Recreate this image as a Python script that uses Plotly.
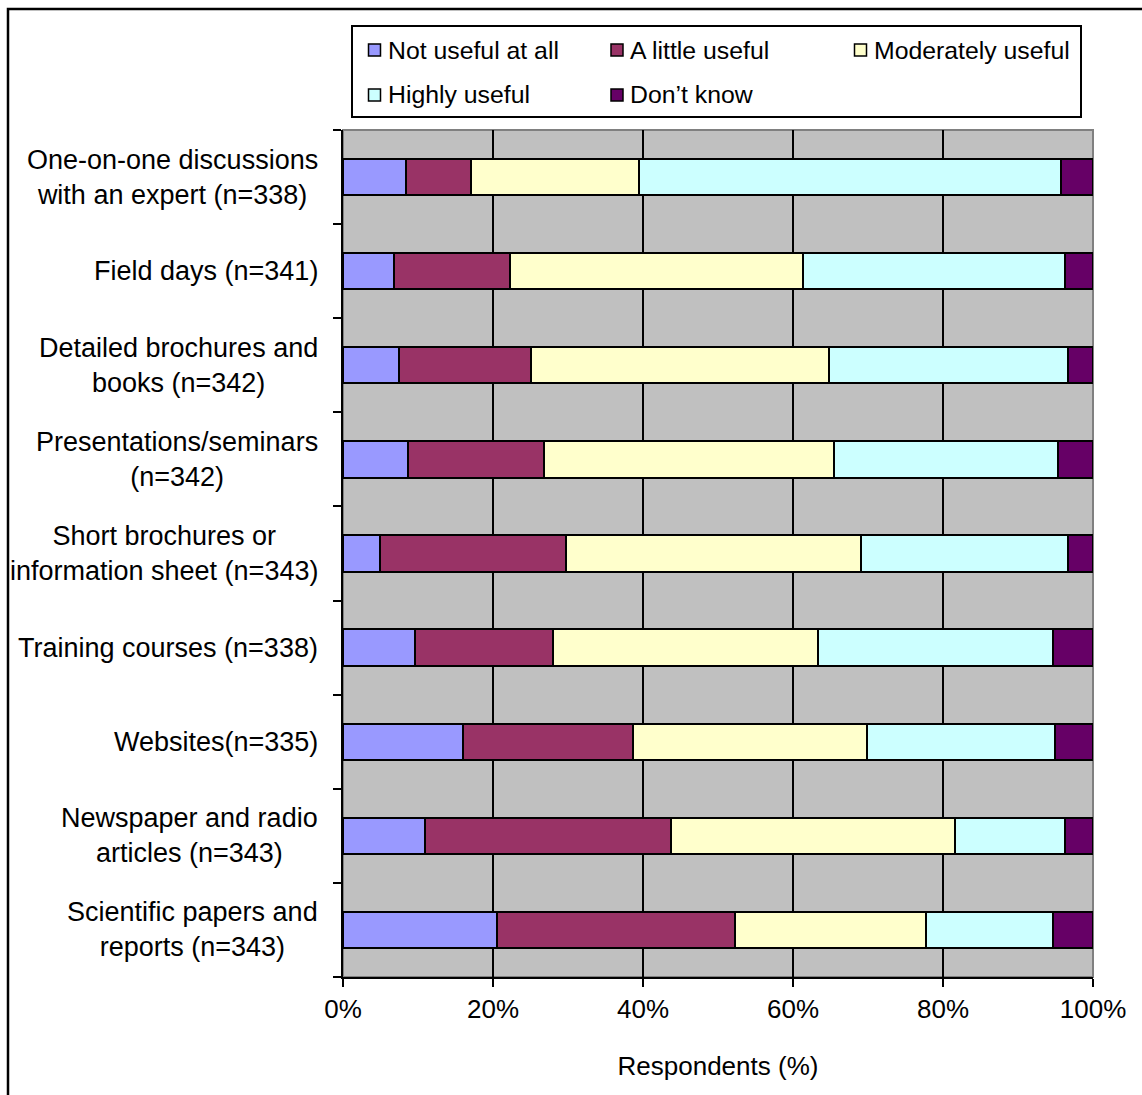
import plotly.graph_objects as go

# ---- data -------------------------------------------------------------
categories = [
    "One-on-one discussions<br>with an expert (n=338)",
    "Field days (n=341)",
    "Detailed brochures and<br>books (n=342)",
    "Presentations/seminars<br>(n=342)",
    "Short brochures or<br>information sheet (n=343)",
    "Training courses (n=338)",
    "Websites(n=335)",
    "Newspaper and radio<br>articles (n=343)",
    "Scientific papers and<br>reports (n=343)",
]

series_names = ["Not useful at all", "A little useful", "Moderately useful",
                "Highly useful", "Don\u2019t know"]

not_useful = [8.4, 6.8, 7.5, 8.7, 4.9, 9.6, 16.0, 10.9, 20.5]
little_useful = [8.7, 15.5, 17.6, 18.1, 24.8, 18.4, 22.7, 32.8, 31.8]
moderately_useful = [22.4, 39.0, 39.7, 38.7, 39.4, 35.3, 31.1, 37.9, 25.4]
highly_useful = [56.2, 34.9, 31.8, 29.8, 27.6, 31.3, 25.1, 14.6, 16.9]
dont_know = [4.3, 3.8, 3.4, 4.7, 3.3, 5.4, 5.1, 3.8, 5.4]

series_values = [not_useful, little_useful, moderately_useful,
                 highly_useful, dont_know]
series_colors = ["#9999FF", "#993366", "#FFFFCC", "#CCFFFF", "#660066"]

x_tick_vals = [0, 20, 40, 60, 80, 100]
x_tick_text = ["0%", "20%", "40%", "60%", "80%", "100%"]

# ---- page geometry ----------------------------------------------------
FIG_W, FIG_H = 1142, 1095
M_L, M_R, M_T, M_B = 343, 49, 130, 118
PLOT_W = FIG_W - M_L - M_R
PLOT_H = FIG_H - M_T - M_B
FONT = "Liberation Sans, Arial, Helvetica, sans-serif"


def px(x):
    """page pixel x -> paper coordinate"""
    return (x - M_L) / PLOT_W


def py(y):
    """page pixel y -> paper coordinate"""
    return (FIG_H - M_B - y) / PLOT_H


rows = list(range(len(categories)))

fig = go.Figure()
for name, vals, color in zip(series_names, series_values, series_colors):
    fig.add_trace(go.Bar(
        y=rows, x=vals, orientation="h", name=name,
        marker=dict(color=color, line=dict(color="black", width=2)),
        showlegend=False,
    ))

shapes = []
annotations = []

# grey frame of the plot area (top and right edges show)
shapes.append(dict(type="rect", xref="paper", yref="paper",
                   x0=0, x1=1, y0=0, y1=1, layer="between",
                   line=dict(color="#808080", width=2)))

# outer chart frame
shapes.append(dict(type="rect", xref="paper", yref="paper",
                   x0=px(8), x1=px(1170), y0=py(1130), y1=py(9),
                   line=dict(color="black", width=2.5)))

# category labels, centred lines, right edge next to the axis
for i, cat in enumerate(categories):
    annotations.append(dict(
        x=0, xref="paper", xshift=-23, xanchor="right",
        y=i, yref="y", yanchor="middle", align="center",
        text=cat, showarrow=False,
        font=dict(family=FONT, size=27, color="black"),
    ))

# legend box
shapes.append(dict(type="rect", xref="paper", yref="paper",
                   x0=px(352), x1=px(1081), y0=py(117), y1=py(26),
                   fillcolor="white", line=dict(color="black", width=2)))
legend_slots = [(374.5, 50), (617, 50), (860.5, 50), (374.5, 95), (617, 95)]
for (cx, cy), name, color in zip(legend_slots, series_names, series_colors):
    shapes.append(dict(type="rect", xref="paper", yref="paper",
                       x0=px(cx - 6), x1=px(cx + 6),
                       y0=py(cy + 6), y1=py(cy - 6),
                       fillcolor=color, line=dict(color="black", width=1.5)))
    annotations.append(dict(
        x=px(cx + 11), xref="paper", xanchor="left",
        y=py(cy), yref="paper", yanchor="middle",
        text=name, showarrow=False,
        font=dict(family=FONT, size=24.8, color="black"),
    ))

fig.update_layout(
    width=FIG_W, height=FIG_H,
    margin=dict(l=M_L, r=M_R, t=M_T, b=M_B, pad=0),
    paper_bgcolor="white", plot_bgcolor="#C0C0C0",
    barmode="stack", bargap=0.615,
    font=dict(family=FONT, size=26, color="black"),
    shapes=shapes, annotations=annotations,
    xaxis=dict(
        range=[0, 100], tickvals=x_tick_vals, ticktext=x_tick_text,
        ticks="outside", ticklen=8, tickwidth=2, tickcolor="black",
        showline=True, linecolor="black", linewidth=2,
        showgrid=True, gridcolor="black", gridwidth=2,
        zeroline=False, fixedrange=True,
        tickfont=dict(family=FONT, size=26, color="black"),
        title=dict(text="Respondents (%)", standoff=34,
                   font=dict(family=FONT, size=26, color="black")),
    ),
    yaxis=dict(
        range=[len(categories) - 0.5, -0.5],
        tickvals=[r - 0.5 for r in rows] + [len(categories) - 0.5],
        showticklabels=False,
        ticks="outside", ticklen=8, tickwidth=2, tickcolor="black",
        showline=True, linecolor="black", linewidth=2,
        showgrid=False, zeroline=False, fixedrange=True,
    ),
)

fig.write_html("out.html")
